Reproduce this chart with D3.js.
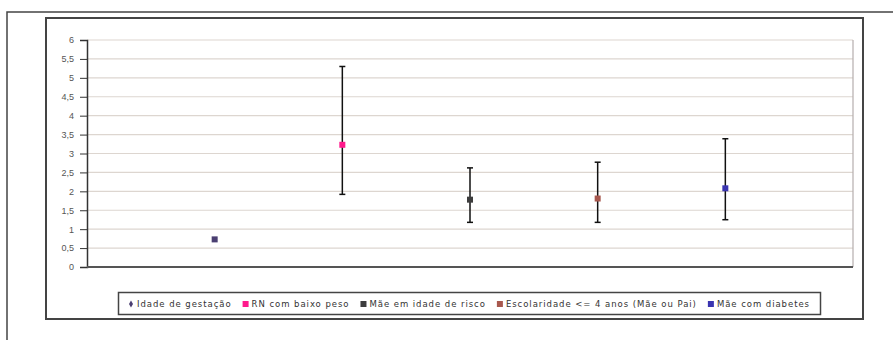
<!DOCTYPE html>
<html lang="pt">
<head>
<meta charset="UTF-8">
<script src="https://d3js.org/d3.v7.min.js"></script>
<style>
  body { margin: 0; background: #fff; }
  svg { display: block; font-family: "DejaVu Sans", sans-serif; }
  .grid line { stroke: #ddd6d0; stroke-width: 1.2px; }
  .yaxis text { fill: #555; font-size: 9px; }
  .legend text { fill: #333; font-size: 8.5px; letter-spacing: 0.95px; }
</style>
</head>
<body>
<svg width="893" height="340"></svg>
<script>
// dados
var categories = ["Idade de gestação", "RN com baixo peso", "Mãe em idade de risco", "Escolaridade <= 4 anos (Mãe ou Pai)", "Mãe com diabetes"];
var values = [0.73, 3.23, 1.78, 1.81, 2.08];
var lower = [null, 1.92, 1.18, 1.18, 1.25];
var upper = [null, 5.30, 2.62, 2.77, 3.39];
var yTicks = [0, 0.5, 1, 1.5, 2, 2.5, 3, 3.5, 4, 4.5, 5, 5.5, 6];
var colors = ["#4b3f72", "#ff1a8c", "#3d3d3d", "#a8584e", "#3a35b0"];

var svg = d3.select("svg");

// moldura externa
svg.append("path")
  .attr("d", "M7,345V12H900")
  .attr("fill", "none").attr("stroke", "#444").attr("stroke-width", 1.5);

// moldura do grafico
svg.append("rect")
  .attr("x", 46).attr("y", 18).attr("width", 817).attr("height", 301)
  .attr("fill", "#fff").attr("stroke", "#444").attr("stroke-width", 2);

var x = d3.scaleLinear().domain([0, 6]).range([87, 853]);
var y = d3.scaleLinear().domain([0, 6]).range([267, 40]);

// linhas de grade
svg.append("g").attr("class", "grid")
  .selectAll("line").data(yTicks.slice(1)).enter().append("line")
  .attr("x1", x(0)).attr("x2", x(6))
  .attr("y1", function(d){ return y(d) }).attr("y2", function(d){ return y(d) });

svg.append("line")
  .attr("x1", x(6)).attr("x2", x(6)).attr("y1", y(6)).attr("y2", y(0))
  .attr("stroke", "#b5aeae").attr("stroke-width", 1.2);

// eixo y
var yAxis = svg.append("g").attr("class", "yaxis")
  .attr("transform", "translate(" + x(0) + ",0)")
  .call(d3.axisLeft(y).tickValues(yTicks).tickSize(7).tickPadding(6)
    .tickFormat(function(d){ return String(d).replace(".", ",") }));
yAxis.select(".domain").attr("stroke", "#333").attr("stroke-width", 1.5);
yAxis.selectAll(".tick line").attr("stroke", "#333");

// eixo x
svg.append("line")
  .attr("x1", x(0)).attr("x2", x(6)).attr("y1", y(0)).attr("y2", y(0))
  .attr("stroke", "#555").attr("stroke-width", 2);

// barras de erro
var rows = categories.map(function(c, i){
  return { name: c, i: i, v: values[i], lo: lower[i], hi: upper[i] };
});
var bars = svg.append("g").selectAll("g").data(rows.filter(function(d){ return d.lo != null }))
  .enter().append("g").attr("stroke", "#111").attr("stroke-width", 1.5);
bars.append("line")
  .attr("x1", function(d){ return x(d.i + 1) }).attr("x2", function(d){ return x(d.i + 1) })
  .attr("y1", function(d){ return y(d.lo) }).attr("y2", function(d){ return y(d.hi) });
["lo", "hi"].forEach(function(k){
  bars.append("line")
    .attr("x1", function(d){ return x(d.i + 1) - 3 }).attr("x2", function(d){ return x(d.i + 1) + 3 })
    .attr("y1", function(d){ return y(d[k]) }).attr("y2", function(d){ return y(d[k]) });
});

// pontos
svg.append("g").selectAll("rect").data(rows).enter().append("rect")
  .attr("x", function(d){ return x(d.i + 1) - 3 })
  .attr("y", function(d){ return y(d.v) - 3 })
  .attr("width", 6).attr("height", 6)
  .attr("fill", function(d){ return colors[d.i] });

// legenda
var legend = svg.append("g").attr("class", "legend");
legend.append("rect")
  .attr("x", 118.5).attr("y", 292.5).attr("width", 702).attr("height", 22)
  .attr("fill", "#fff").attr("stroke", "#444").attr("stroke-width", 1.5);
var lx = 128;
rows.forEach(function(d){
  if (d.i == 0) {
    legend.append("path").attr("d", d3.symbol(d3.symbolDiamond, 14)())
      .attr("transform", "translate(" + (lx + 3) + ",304)").attr("fill", colors[0]);
  } else {
    legend.append("rect").attr("x", lx).attr("y", 301).attr("width", 6).attr("height", 6)
      .attr("fill", colors[d.i]);
  }
  var t = legend.append("text").attr("x", lx + 9).attr("y", 307).text(d.name);
  lx += 9 + t.node().getComputedTextLength() + 11;
});
</script>
</body>
</html>
